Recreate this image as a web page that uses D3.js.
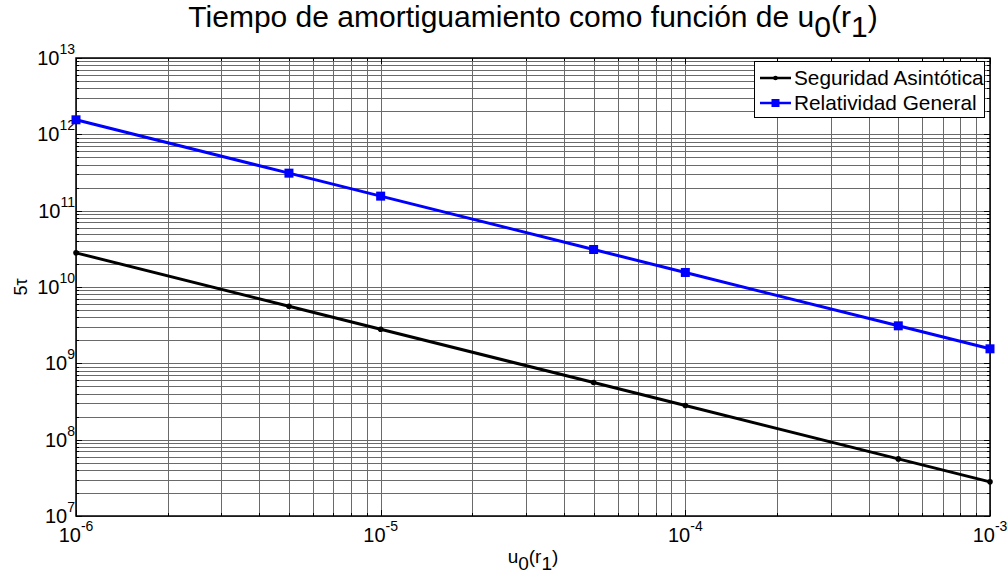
<!DOCTYPE html>
<html><head><meta charset="utf-8">
<script src="https://cdn.jsdelivr.net/npm/d3@7"></script>
<style>body{margin:0;background:#fff}svg{font-family:"Liberation Sans",Arial,sans-serif}</style>
</head><body><svg id="c" width="1008" height="577"></svg>
<script>
const xValues = [1e-6, 5e-6, 1e-5, 5e-5, 1e-4, 5e-4, 1e-3];
const seguridad = [2.8e10, 5.6e9, 2.8e9, 5.6e8, 2.8e8, 5.6e7, 2.8e7];
const relatividad = [1.55e12, 3.1e11, 1.55e11, 3.1e10, 1.55e10, 3.1e9, 1.55e9];
const xTickExps = [-6, -5, -4, -3];
const yTickExps = [7, 8, 9, 10, 11, 12, 13];
const seriesNames = ["Seguridad Asintótica", "Relatividad General"];

const svg = d3.select("#c");
const L = 76, R = 990, T = 58, B = 516;
const x = d3.scaleLog().domain([1e-6, 1e-3]).range([L, R]);
const y = d3.scaleLog().domain([1e7, 1e13]).range([B, T]);

const xMinor = [], yMinor = [];
for (let e = -6; e < -3; e++) for (let k = 1; k <= 9; k++) xMinor.push(k * Math.pow(10, e));
xMinor.push(1e-3);
for (let e = 7; e < 13; e++) for (let k = 1; k <= 9; k++) yMinor.push(k * Math.pow(10, e));
yMinor.push(1e13);

const g = svg.append("g");
g.selectAll(".gx").data(xMinor).enter().append("line")
  .attr("x1", d => Math.round(x(d)) + 0.5).attr("x2", d => Math.round(x(d)) + 0.5)
  .attr("y1", T).attr("y2", B).attr("stroke", "#6a6a6a").attr("stroke-width", 1);
g.selectAll(".gy").data(yMinor).enter().append("line")
  .attr("y1", d => Math.round(y(d)) + 0.5).attr("y2", d => Math.round(y(d)) + 0.5)
  .attr("x1", L).attr("x2", R).attr("stroke", "#6a6a6a").attr("stroke-width", 1);

const isMajor = v => Math.abs(Math.log10(v) - Math.round(Math.log10(v))) < 1e-9;
xMinor.forEach(v => {
  const len = isMajor(v) ? 6 : 3; const px = Math.round(x(v)) + 0.5;
  g.append("line").attr("x1", px).attr("x2", px).attr("y1", B).attr("y2", B - len).attr("stroke", "#000");
  g.append("line").attr("x1", px).attr("x2", px).attr("y1", T).attr("y2", T + len).attr("stroke", "#000");
});
yMinor.forEach(v => {
  const len = isMajor(v) ? 6 : 3; const py = Math.round(y(v)) + 0.5;
  g.append("line").attr("y1", py).attr("y2", py).attr("x1", L).attr("x2", L + len).attr("stroke", "#000");
  g.append("line").attr("y1", py).attr("y2", py).attr("x1", R).attr("x2", R - len).attr("stroke", "#000");
});
g.append("rect").attr("x", L).attr("y", T).attr("width", R - L).attr("height", B - T)
  .attr("fill", "none").attr("stroke", "#000").attr("stroke-width", 1.5);

xTickExps.forEach(e => {
  const t = g.append("text").attr("x", x(Math.pow(10, e))).attr("y", B + 26).attr("text-anchor", "middle")
    .attr("font-size", 20);
  t.append("tspan").text("10");
  t.append("tspan").attr("dy", -11).attr("font-size", 14).text(e);
});
yTickExps.forEach(e => {
  const t = g.append("text").attr("x", L - 1).attr("y", y(Math.pow(10, e)) + 7).attr("text-anchor", "end")
    .attr("font-size", 20);
  t.append("tspan").text("10");
  t.append("tspan").attr("dy", -11).attr("font-size", 14).text(e);
});

const line = d3.line().x((d, i) => x(xValues[i])).y(d => y(d));
g.append("path").datum(seguridad).attr("d", line).attr("fill", "none").attr("stroke", "#000").attr("stroke-width", 3);
g.selectAll(".ps").data(seguridad).enter().append("circle")
  .attr("cx", (d, i) => x(xValues[i])).attr("cy", d => y(d)).attr("r", 2.8).attr("fill", "#000");
g.append("path").datum(relatividad).attr("d", line).attr("fill", "none").attr("stroke", "#0000ff").attr("stroke-width", 3);
g.selectAll(".pr").data(relatividad).enter().append("rect")
  .attr("x", (d, i) => x(xValues[i]) - 4.5).attr("y", d => y(d) - 4.5).attr("width", 9).attr("height", 9).attr("fill", "#0000ff");

const lg = svg.append("g");
lg.append("rect").attr("x", 754.5).attr("y", 61.5).attr("width", 230).attr("height", 56)
  .attr("fill", "#fff").attr("stroke", "#000").attr("stroke-width", 1);
[["#000", "dot"], ["#0000ff", "sq"]].forEach((s, i) => {
  const cy = 78 + i * 25;
  lg.append("line").attr("x1", 760).attr("x2", 791).attr("y1", cy).attr("y2", cy).attr("stroke", s[0]).attr("stroke-width", 2.5);
  if (s[1] === "dot") lg.append("circle").attr("cx", 775.5).attr("cy", cy).attr("r", 2.3).attr("fill", s[0]);
  else lg.append("rect").attr("x", 771.5).attr("y", cy - 4).attr("width", 8).attr("height", 8).attr("fill", s[0]);
  lg.append("text").attr("x", 794).attr("y", cy + 7).attr("font-size", 20.8).text(seriesNames[i]);
});

const tt = svg.append("text").attr("x", 533).attr("y", 27).attr("text-anchor", "middle").attr("font-size", 30);
tt.append("tspan").text("Tiempo de amortiguamiento como función de u");
tt.append("tspan").attr("dy", 10).text("0");
tt.append("tspan").attr("dy", -10).text("(r");
tt.append("tspan").attr("dy", 10).text("1");
tt.append("tspan").attr("dy", -10).text(")");

const xl = svg.append("text").attr("x", 533).attr("y", 563).attr("text-anchor", "middle").attr("font-size", 19);
xl.append("tspan").text("u");
xl.append("tspan").attr("dy", 7).text("0");
xl.append("tspan").attr("dy", -7).text("(r");
xl.append("tspan").attr("dy", 7).text("1");
xl.append("tspan").attr("dy", -7).text(")");

svg.append("text").attr("transform", "translate(27,287) rotate(-90)").attr("text-anchor", "middle")
  .attr("font-size", 18).text("5τ");
</script></body></html>
